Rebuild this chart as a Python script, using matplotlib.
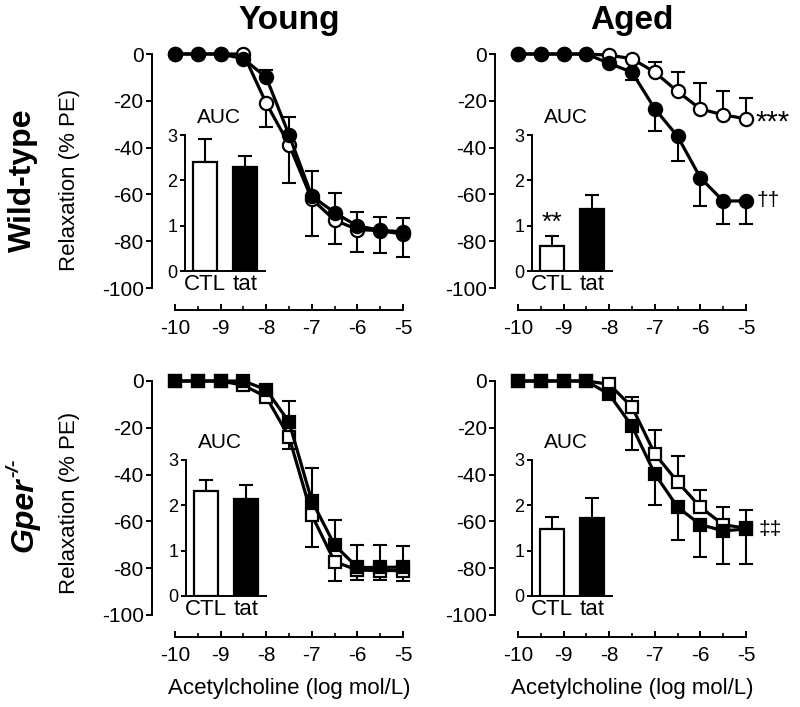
import numpy as np
import matplotlib.pyplot as plt
from matplotlib.ticker import MultipleLocator

plt.rcParams['font.family'] = ['Liberation Sans', 'DejaVu Sans']
plt.rcParams['axes.unicode_minus'] = False

# acetylcholine concentrations (log mol/L)
log_ach = [-10, -9.5, -9, -8.5, -8, -7.5, -7, -6.5, -6, -5.5, -5]

# wild-type, young
wt_young_ctl = [0, 0, 0, 0, -21, -38.7, -62, -71, -75, -75.5, -77]
wt_young_ctl_err = [0, 0, 0, 0, 10, 16.3, 15.7, 10.3, 9.8, 9.5, 9.7]
wt_young_tat = [0, 0, 0, -2, -10, -34.5, -60.7, -67.8, -73.5, -75.3, -76]
wt_young_tat_err = [0, 0, 0, 0, 3, 7.5, 10.7, 8.2, 6, 5.7, 6]

# wild-type, aged
wt_aged_ctl = [0, 0, 0, 0, -0.5, -2, -7.8, -16, -23.5, -26, -27.7]
wt_aged_ctl_err = [0, 0, 0, 0, 0, 0, 4.5, 8.5, 11, 10, 8.9]
wt_aged_tat = [0, 0, 0, 0, -4, -7.8, -23.4, -35.2, -52.9, -62.8, -62.8]
wt_aged_tat_err = [0, 0, 0, 0, 0, 3.2, 9.6, 10.6, 12.1, 9.7, 9.7]

# Gper-/-, young
ko_young_ctl = [0, 0, 0, -1.8, -6.8, -23.9, -57.3, -77.2, -80.8, -81, -81]
ko_young_ctl_err = [0, 0, 0, 0, 2.2, 5, 13.5, 8.1, 4.2, 4, 4.5]
ko_young_tat = [0, 0, 0, 0, -3.7, -17.5, -51.2, -70.1, -79.7, -79.7, -79.5]
ko_young_tat_err = [0, 0, 0, 0, 0.5, 8.8, 14.2, 10.6, 9.7, 9.7, 9]

# Gper-/-, aged
ko_aged_ctl = [0, 0, 0, 0, -1.4, -11.1, -31.1, -43.1, -53.9, -61.4, -62.9]
ko_aged_ctl_err = [0, 0, 0, 0, 0, 4.4, 10, 11, 7.2, 7.5, 7.6]
ko_aged_tat = [0, 0, 0, 0, -5.7, -19.3, -39.7, -53.9, -61.4, -64, -63.3]
ko_aged_tat_err = [0, 0, 0, 0, 0, 10, 13.2, 14.2, 14, 14.1, 14.8]

# AUC insets: [CTL, tat]
auc_groups = ['CTL', 'tat']
auc_wt_young = [2.41, 2.30]
auc_wt_young_err = [0.51, 0.23]
auc_wt_aged = [0.55, 1.37]
auc_wt_aged_err = [0.23, 0.31]
auc_ko_young = [2.32, 2.15]
auc_ko_young_err = [0.24, 0.30]
auc_ko_aged = [1.48, 1.73]
auc_ko_aged_err = [0.26, 0.44]

W, H = 800, 707
fig = plt.figure(figsize=(W / 100, H / 100), dpi=100)


def main_panel(left, top, ctl, ctl_err, tat, tat_err, marker, ctl_up, show_xlabel):
    ax = fig.add_axes([left / W, 1 - (top + 234) / H, 228 / W, 234 / H])
    ax.patch.set_alpha(0)
    x = np.array(log_ach)
    zeros = np.zeros(len(x))
    # one-sided error bars: upper curve gets bars up, lower curve down
    if ctl_up:
        ctl_yerr, tat_yerr = [zeros, ctl_err], [tat_err, zeros]
    else:
        ctl_yerr, tat_yerr = [ctl_err, zeros], [zeros, tat_err]
    for y, yerr in [(ctl, ctl_yerr), (tat, tat_yerr)]:
        ax.errorbar(x, y, yerr=yerr, fmt='none', ecolor='black', elinewidth=1.5,
                    capsize=5, capthick=1.5, zorder=2, clip_on=False)
    ms = 9.5 if marker == 'o' else 9
    ax.plot(x, ctl, '-', color='black', lw=2.3, marker=marker, ms=ms,
            mfc='white', mec='black', mew=1.6, zorder=3, clip_on=False)
    ax.plot(x, tat, '-', color='black', lw=2.3, marker=marker, ms=ms,
            mfc='black', mec='black', mew=1.6, zorder=4, clip_on=False)

    ax.set_xlim(-10, -5)
    ax.set_ylim(-100, 0)
    for s in ['top', 'right']:
        ax.spines[s].set_visible(False)
    ax.spines['left'].set_position(('outward', 16.5))
    ax.spines['bottom'].set_position(('outward', 16))
    for s in ['left', 'bottom']:
        ax.spines[s].set_linewidth(1.4)
    ax.xaxis.set_major_locator(MultipleLocator(1))
    ax.xaxis.set_minor_locator(MultipleLocator(0.5))
    ax.yaxis.set_major_locator(MultipleLocator(20))
    ax.tick_params(axis='x', which='major', direction='in', length=4.5, width=1.4,
                   labelsize=15, pad=6)
    ax.tick_params(axis='x', which='minor', direction='in', length=3, width=1.2)
    ax.tick_params(axis='y', direction='out', length=4, width=1.4, labelsize=15, pad=2)
    if show_xlabel:
        ax.set_xlabel('Acetylcholine (log mol/L)', fontsize=16, labelpad=10)
    return ax


def auc_inset(left, top, vals, errs, star=None):
    ins = fig.add_axes([left / W, 1 - (top + 136) / H, 80 / W, 136 / H])
    ins.patch.set_alpha(0)
    ins.bar([0, 1], vals, width=0.6, color=['white', 'black'], edgecolor='black',
            linewidth=1.6, zorder=3)
    ins.errorbar([0, 1], vals, yerr=[[0, 0], errs], fmt='none', ecolor='black',
                 elinewidth=1.5, capsize=5, capthick=1.5, zorder=2)
    ins.set_xlim(-0.5, 1.5)
    ins.set_ylim(0, 3)
    for s in ['top', 'right']:
        ins.spines[s].set_visible(False)
    for s in ['left', 'bottom']:
        ins.spines[s].set_linewidth(1.4)
    ins.set_yticks([0, 1, 2, 3])
    ins.set_xticks([0, 1])
    ins.set_xticklabels(auc_groups)
    ins.tick_params(axis='y', direction='out', length=3.5, width=1.4, labelsize=13, pad=2)
    ins.tick_params(axis='x', length=0, labelsize=16, pad=2)
    ins.text(0.42, 1.13, 'AUC', transform=ins.transAxes, ha='center', va='center',
             fontsize=15)
    if star:
        ins.text(0, vals[0] + errs[0] + 0.02, star, ha='center', va='bottom', fontsize=19)
    return ins


ax_tl = main_panel(175, 54, wt_young_ctl, wt_young_ctl_err, wt_young_tat, wt_young_tat_err,
                   'o', ctl_up=False, show_xlabel=False)
ax_tr = main_panel(518, 54, wt_aged_ctl, wt_aged_ctl_err, wt_aged_tat, wt_aged_tat_err,
                   'o', ctl_up=True, show_xlabel=False)
ax_bl = main_panel(175, 381, ko_young_ctl, ko_young_ctl_err, ko_young_tat, ko_young_tat_err,
                   's', ctl_up=False, show_xlabel=True)
ax_br = main_panel(518, 381, ko_aged_ctl, ko_aged_ctl_err, ko_aged_tat, ko_aged_tat_err,
                   's', ctl_up=True, show_xlabel=True)

auc_inset(185, 135, auc_wt_young, auc_wt_young_err)
auc_inset(532, 135, auc_wt_aged, auc_wt_aged_err, star='**')
auc_inset(186, 460, auc_ko_young, auc_ko_young_err)
auc_inset(532, 460, auc_ko_aged, auc_ko_aged_err)

# significance marks at the curve ends
ax_tr.text(-4.8, wt_aged_ctl[-1] - 1.5, '***', ha='left', va='center', fontsize=21)
ax_tr.text(-4.76, wt_aged_tat[-1], '\u2020\u2020', ha='left', va='center', fontsize=15)
ax_br.text(-4.72, ko_aged_tat[-1], '\u2021\u2021', ha='left', va='center', fontsize=15)

# column and row headings
fig.text(289 / W, 1 - 20 / H, 'Young', ha='center', va='center', fontsize=24,
         fontweight='bold')
fig.text(632 / W, 1 - 20 / H, 'Aged', ha='center', va='center', fontsize=24,
         fontweight='bold')
fig.text(23 / W, 1 - 180 / H, 'Wild-type', ha='center', va='center', fontsize=23,
         fontweight='bold', rotation=90)
fig.text(24 / W, 1 - 515 / H, 'Gper', ha='center', va='center', fontsize=23,
         fontweight='bold', fontstyle='italic', rotation=90)
fig.text(14 / W, 1 - 468 / H, '-/-', ha='center', va='center', fontsize=14,
         fontweight='bold', fontstyle='italic', rotation=90)
fig.text(69 / W, 1 - 180 / H, 'Relaxation (% PE)', ha='center', va='center',
         fontsize=16, rotation=90)
fig.text(69 / W, 1 - 503 / H, 'Relaxation (% PE)', ha='center', va='center',
         fontsize=16, rotation=90)

fig.savefig('out.png', dpi=100)
